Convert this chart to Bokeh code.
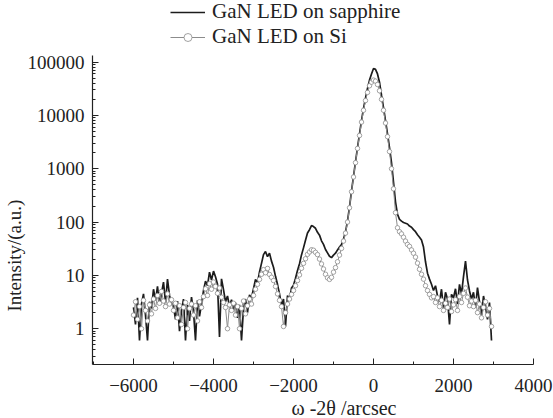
import math
from bokeh.plotting import figure
from bokeh.models import (Legend, LegendItem, Title, FixedTicker, Range1d)
from bokeh.embed import file_html
from bokeh.resources import INLINE

# sampling grid (arcsec)
x_start = -6000
x_step = 50

# GaN LED on sapphire (50 arcsec steps from -6000)
sapphire = [
    2.5, 1.2, 3.8, 0.6, 2.9, 4.5, 1.8, 0.6, 3.2, 2.4,
    5.5, 3.4, 6.2, 2.8, 4.6, 7.5, 3.1, 8.5, 4.2, 3.0,
    2.6, 1.5, 3.3, 0.9, 2.2, 3.6, 0.6, 2.8, 1.4, 3.9,
    2.1, 0.6, 3.4, 1.7, 2.9, 5.2, 7.8, 6.4, 11.5, 8.2,
    12.0, 9.4, 6.8, 0.7, 8.6, 5.4, 3.2, 4.1, 2.6, 3.5,
    2.3, 3.1, 1.6, 2.8, 0.6, 2.4, 3.6, 2.0, 4.3, 3.8,
    5.6, 8.4, 7.2, 11.6, 16.8, 24.5, 28.0, 22.4, 26.1, 18.5,
    14.2, 9.6, 6.8, 4.5, 2.8, 3.6, 1.1, 4.2, 3.4, 5.8,
    6.5, 8.8, 12.4, 16.5, 24.2, 32.8, 45.6, 62.5, 71.8, 86.0,
    82.4, 76.5, 64.2, 56.8, 44.5, 38.2, 30.6, 26.4, 22.8, 21.5,
    24.0, 26.0, 30.0, 34.0, 38.0, 48.0, 65.0, 105.0, 190.0, 380.0,
    720.0, 1350.0, 2500.0, 4500.0, 8000.0, 13500.0, 21000.0, 32000.0, 46000.0, 60000.0,
    76000.0, 73000.0, 60000.0, 42000.0, 24000.0, 14000.0, 8000.0, 4500.0, 2500.0, 1300.0,
    560.0, 240.0, 140.0, 112.0, 104.0, 98.0, 95.0, 92.0, 84.0, 80.0,
    72.0, 66.0, 58.0, 52.0, 46.0, 34.0, 18.0, 11.0, 8.5, 6.8,
    5.2, 6.4, 4.1, 3.2, 5.5, 2.4, 4.8, 3.6, 1.2, 4.4,
    3.8, 5.6, 2.9, 6.8, 4.5, 9.5, 18.5, 8.2, 5.1, 3.6,
    4.8, 2.5, 5.9, 3.2, 1.8, 4.1, 2.6, 1.5, 3.1, 0.6,
]

# GaN LED on Si
si = [
    1.8, 3.2, 1.5, 2.6, 1.0, 3.4, 2.2, 1.4, 2.8, 1.9,
    3.6, 2.4, 4.2, 3.0, 5.0, 3.3, 2.6, 4.5, 2.9, 3.5,
    2.2, 3.0, 1.6, 2.7, 1.2, 2.5, 3.1, 1.0, 2.4, 2.9,
    1.8, 2.7, 1.4, 3.2, 2.5, 4.0, 5.6, 4.2, 7.0, 5.5,
    7.5, 6.2, 4.6, 5.8, 3.9, 3.1, 2.5, 1.0, 2.8, 2.2,
    3.0, 1.8, 2.6, 1.0, 2.4, 3.3, 1.9, 2.7, 3.6, 2.9,
    4.2, 5.5, 6.8, 8.4, 10.5, 12.8, 11.2, 13.5, 10.4, 9.2,
    8.0, 6.2, 4.5, 3.4, 2.6, 1.1, 2.0, 2.9, 3.6, 4.4,
    5.2, 6.4, 8.0, 10.2, 13.6, 16.8, 20.5, 24.8, 27.5, 30.2,
    29.6, 27.0, 24.5, 20.2, 16.4, 13.2, 10.5, 9.0, 8.4, 9.2,
    11.5, 14.0, 18.0, 24.0, 32.0, 44.0, 62.0, 100.0, 185.0, 370.0,
    700.0, 1300.0, 2400.0, 4200.0, 7500.0, 12500.0, 19000.0, 27000.0, 36000.0, 42000.0,
    46000.0, 44000.0, 38000.0, 29000.0, 20000.0, 12500.0, 7200.0, 4000.0, 2100.0, 1000.0,
    420.0, 150.0, 78.0, 66.0, 60.0, 52.0, 44.0, 38.0, 35.0, 30.0,
    26.0, 22.0, 17.0, 13.0, 10.5, 8.5, 6.4, 5.2, 4.4, 3.8,
    4.0, 3.1, 3.8, 2.6, 3.4, 2.2, 3.0, 2.5, 3.6, 2.1,
    2.8, 3.5, 2.2, 4.0, 3.1, 4.6, 5.8, 3.9, 2.7, 3.3,
    2.6, 3.4, 2.0, 2.9, 1.6, 2.5, 3.2, 1.8, 2.4, 1.1,
]

x = [x_start + i * x_step for i in range(len(sapphire))]

x_ticks = [-6000, -4000, -2000, 0, 2000, 4000]
x_tick_labels = ["\u22126000", "\u22124000", "\u22122000", "0", "2000", "4000"]
y_ticks = [1, 10, 100, 1000, 10000, 100000]
y_tick_labels = ["1", "10", "100", "1000", "10000", "100000"]
series_labels = ["GaN LED on sapphire", "GaN LED on Si"]
x_title = "\u03c9 -2\u03b8 /arcsec"
y_title = "Intensity/(a.u.)"

FONT = "Liberation Serif"
INK = "#222222"

# frame reaches the top/right canvas edges so the legend can sit above the axis;
# the axis lines themselves are limited with `bounds`
p = figure(width=553, height=418, y_axis_type="log",
           x_range=Range1d(-7025, 4500), y_range=Range1d(0.213, 1.43e6),
           output_backend="svg", toolbar_location=None,
           min_border_left=92, min_border_right=0,
           min_border_top=0, min_border_bottom=52)
p.outline_line_color = None
p.xgrid.visible = False
p.ygrid.visible = False
p.background_fill_color = "white"
p.border_fill_color = "white"

r1 = p.line(x, sapphire, line_color="#1c1c1c", line_width=1.7)
r2 = p.line(x, si, line_color="#8c8c8c", line_width=1)
r3 = p.scatter(x, si, marker="circle", size=4.5, line_color="#8c8c8c",
               fill_color="white", line_width=0.8)

# axes
minor_x = [t for t in range(-7000, 4001, 1000) if t not in x_ticks]
p.xaxis.ticker = FixedTicker(ticks=x_ticks, minor_ticks=minor_x)
p.xaxis.major_label_overrides = dict(zip(x_ticks, x_tick_labels))
p.xaxis.bounds = (-7025, 4000)
minor_y = [m * 10 ** d for d in range(-1, 5) for m in range(2, 10)]
p.yaxis.ticker = FixedTicker(ticks=y_ticks, minor_ticks=minor_y)
p.yaxis.major_label_overrides = dict(zip(y_ticks, y_tick_labels))
p.yaxis.bounds = (0.213, 135000)

for ax in (p.xaxis[0], p.yaxis[0]):
    ax.axis_line_color = INK
    ax.axis_line_width = 1.2
    ax.major_tick_line_color = INK
    ax.minor_tick_line_color = INK
    ax.major_tick_in = 6
    ax.major_tick_out = 0
    ax.minor_tick_in = 3
    ax.minor_tick_out = 0
    ax.major_label_text_font = FONT
    ax.major_label_text_font_size = "19px"
    ax.major_label_text_color = INK
p.xaxis.major_label_standoff = 14
p.yaxis.major_label_standoff = 8

# axis titles as side-panel titles (offset along the axis like the reference)
p.add_layout(Title(text=x_title, align="left", offset=199, standoff=0,
                   text_font=FONT, text_font_size="20px", text_font_style="normal",
                   text_color=INK), "below")
p.add_layout(Title(text=y_title, align="left", offset=53, standoff=0,
                   text_font=FONT, text_font_size="19px", text_font_style="normal",
                   text_color=INK), "left")

legend = Legend(items=[LegendItem(label=series_labels[0], renderers=[r1]),
                       LegendItem(label=series_labels[1], renderers=[r2, r3])],
                location=(78, 315), orientation="vertical",
                background_fill_alpha=0, border_line_color=None,
                label_text_font=FONT, label_text_font_size="21px",
                label_text_color=INK, glyph_width=35, glyph_height=20,
                label_height=20, label_standoff=7, padding=0, spacing=-5, margin=0)
p.add_layout(legend)

open("out.html", "w").write(file_html(p, INLINE))
